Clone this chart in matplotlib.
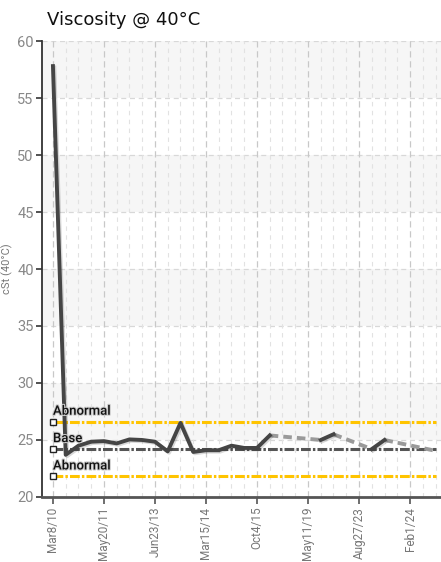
import numpy as np
import matplotlib
matplotlib.use("Agg")
import matplotlib.pyplot as plt
import matplotlib.patheffects as pe

# viscosity readings, None = no sample at that date
visc = [57.8, 23.7, 24.5, 24.85, 24.9, 24.7, 25.05, 25.0, 24.85, 24.0,
        26.5, 23.95, 24.1, 24.1, 24.5, 24.3, 24.3, 25.4, None, None,
        None, 25.0, 25.5, None, None, 24.2, 25.0, None, None, None, 24.05]
tick_labels = ["Mar8/10", "May20/11", "Jun23/13", "Mar15/14", "Oct4/15",
               "May11/19", "Aug27/23", "Feb1/24"]
tick_every = 4
limit_names = ["Abnormal", "Base", "Abnormal"]
limit_values = [26.6, 24.2, 21.8]
limit_colors = ["#FFC400", "#555555", "#FFC400"]

narrow = ["Roboto", "DejaVu Sans"]

fig = plt.figure(figsize=(4.41, 5.62), dpi=100)
ax = fig.add_axes([0.0952, 0.1157, 1 - 0.0952, 0.927 - 0.1157])

x = np.arange(len(visc))
y = np.array([np.nan if v is None else v for v in visc])

# alternating bands
for lo in range(25, 60, 10):
    ax.axhspan(lo, lo + 5, color="#f6f6f6", zorder=0, lw=0)

# grid
for yy in range(20, 61, 5):
    ax.axhline(yy, color="#d8d8d8", lw=0.9, ls=(0, (4, 3)), zorder=1)
for xi in x:
    if xi % tick_every == 0:
        ax.axvline(xi, color="#c8c8c8", lw=0.9, ls=(0, (5, 3)), zorder=1)
    else:
        ax.axvline(xi, color="#e2e2e2", lw=0.8, ls=(0, (4, 4)), zorder=1)

# limit lines with labels
for name, val, col in zip(limit_names, limit_values, limit_colors):
    ax.plot([0, len(visc) - 1], [val, val], color=col, lw=2.2,
            dashes=(3.2, 0.7, 0.8, 0.7), zorder=3)
    ax.plot([0], [val], marker="s", ms=4.5, mfc="white", mec="#222222",
            mew=1, zorder=6, clip_on=False)
    ax.text(0, val + 0.35, name, family=narrow, fontsize=9.5, color="#111111",
            ha="left", va="bottom", zorder=7, weight="medium",
            path_effects=[pe.withStroke(linewidth=1.5, foreground="#cccccc")])

# connect gaps with light dashed segments
valid = np.where(~np.isnan(y))[0]
for a, b in zip(valid[:-1], valid[1:]):
    if b - a > 1:
        ax.plot([a, b], [y[a], y[b]], color="#9a9a9a", lw=2.8,
                dashes=(2.2, 1.3), zorder=4)

shadow = [pe.SimpleLineShadow(offset=(1, -1), shadow_color="#000000", alpha=0.15),
          pe.Normal()]
ax.plot(x, y, color="#454545", lw=2.8, zorder=5, solid_joinstyle="round",
        path_effects=shadow)

ax.set_xlim(-0.86, 30.43)
ax.set_ylim(20, 60)
ax.set_yticks(range(20, 61, 5))
ax.set_xticks(x[::tick_every])
ax.set_xticklabels(tick_labels, rotation=90, family=narrow, fontsize=8.5,
                   color="#777777")
for lab in ax.get_yticklabels():
    lab.set_family(narrow)
    lab.set_fontsize(10.5)
    lab.set_color("#888888")
ax.tick_params(axis="y", length=4, width=1.2, color="#333333", pad=2)
ax.tick_params(axis="x", length=5, width=1.2, color="#555555", pad=2)

for s in ["top", "right"]:
    ax.spines[s].set_visible(False)
ax.spines["left"].set_color("#333333")
ax.spines["left"].set_linewidth(1.3)
ax.spines["bottom"].set_color("#555555")
ax.spines["bottom"].set_linewidth(2)

ax.set_ylabel("cSt (40°C)", family=narrow, fontsize=8, color="#777777",
              labelpad=3)
fig.text(0.107, 0.955, "Viscosity @ 40°C", fontsize=13, color="#111111",
         ha="left", va="baseline", family="DejaVu Sans")

fig.savefig("out.png", dpi=100)
